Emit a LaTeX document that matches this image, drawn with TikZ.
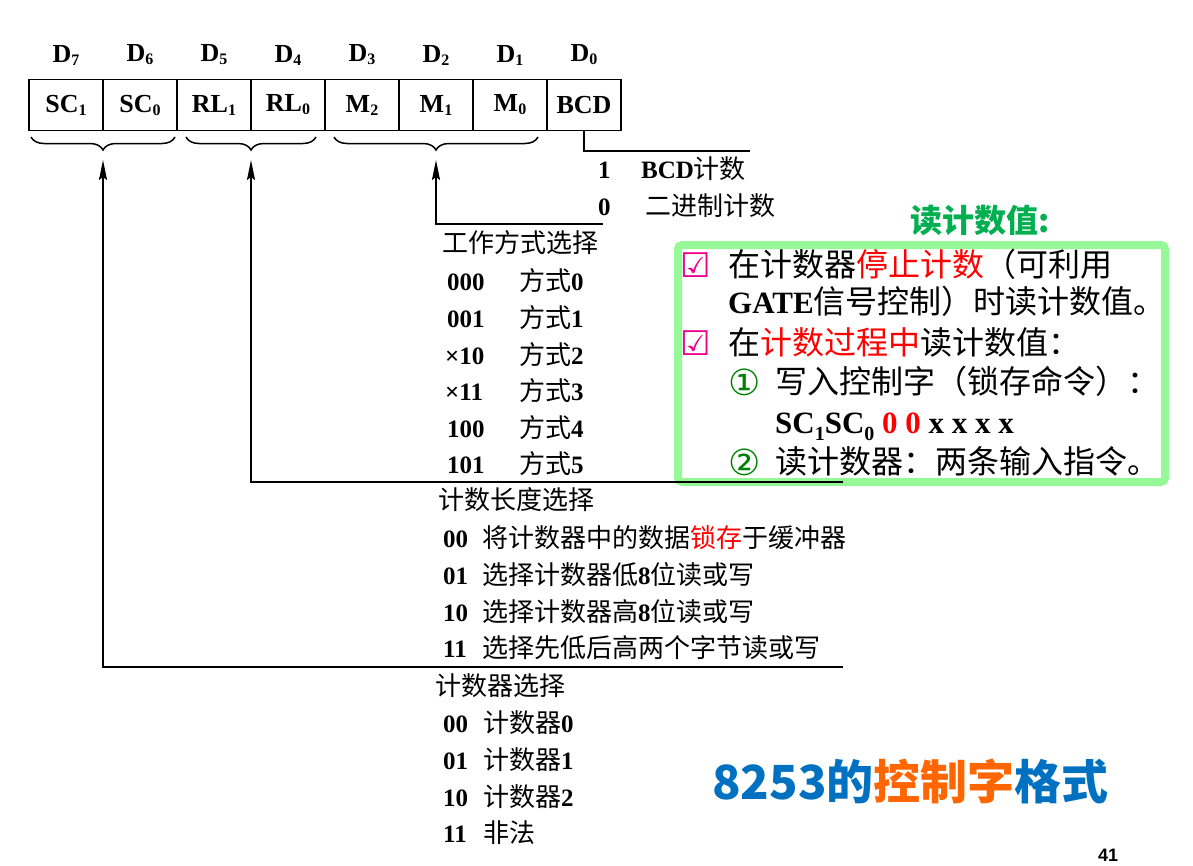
\documentclass[tikz,border=0pt]{standalone}
\usepackage{fontspec}
\setmainfont{Liberation Serif}
\newfontfamily\cjk{Noto Sans CJK SC}
\newfontfamily\djv{DejaVu Sans}
\newfontfamily\lsans{Liberation Sans}
\usetikzlibrary{arrows.meta,decorations.pathreplacing}
\definecolor{boxgreen}{RGB}{150,248,150}
\definecolor{ttlgreen}{RGB}{0,176,80}
\definecolor{dkgreen}{RGB}{0,128,0}
\definecolor{ttlblue}{RGB}{0,112,192}
\definecolor{ttlorange}{RGB}{255,102,0}
\newcommand\fsz[1]{\fontsize{#1}{#1}\selectfont}
\newcommand\zh[1]{{\cjk\fsz{26}#1}}
\newcommand\zg[1]{{\cjk\fsz{32}#1}}
\newcommand\lowsub[1]{\raisebox{-3pt}{\fsz{16}#1}}
\newcommand\lowsubb[1]{\raisebox{-7pt}{\fsz{20}#1}}
\begin{document}
\begin{tikzpicture}[x=1pt,y=-1pt,
  cell/.style={draw, line width=1.5pt, minimum width=74pt, minimum height=51pt, inner sep=0pt, font=\fsz{26}\bfseries},
  dlab/.style={inner sep=0pt, font=\fsz{26}\bfseries},
  txt/.style={anchor=base west, inner sep=0pt, font=\fsz{25}},
  gtxt/.style={anchor=base west, inner sep=0pt, font=\fsz{31}},
  chk/.style={inner sep=0pt, font=\djv\fsz{34}, text=magenta},
  circ/.style={inner sep=0pt, font=\djv\fsz{36}, text=dkgreen},
  ln/.style={line width=1.8pt},
  arr/.style={ln, -{Stealth[length=20pt,width=8pt,inset=3pt]}},
  brc/.style={decorate, decoration={brace, amplitude=13pt, mirror}, line width=1.5pt}
]
\useasboundingbox (0,0) rectangle (1193,865);

% register cells
\node[cell] (c7) at (66,105) {SC\lowsub{1}};
\node[cell] (c6) at (140,105) {SC\lowsub{0}};
\node[cell] (c5) at (214,105) {RL\lowsub{1}};
\node[cell] (c4) at (288,105) {RL\lowsub{0}};
\node[cell] (c3) at (362,105) {M\lowsub{2}};
\node[cell] (c2) at (436,105) {M\lowsub{1}};
\node[cell] (c1) at (510,105) {M\lowsub{0}};
\node[cell] (c0) at (584,105) {BCD};

\node[dlab] (d7) at (66,55) {D\lowsub{7}};
\node[dlab] (d6) at (140,55) {D\lowsub{6}};
\node[dlab] (d5) at (214,55) {D\lowsub{5}};
\node[dlab] (d4) at (288,55) {D\lowsub{4}};
\node[dlab] (d3) at (362,55) {D\lowsub{3}};
\node[dlab] (d2) at (436,55) {D\lowsub{2}};
\node[dlab] (d1) at (510,55) {D\lowsub{1}};
\node[dlab] (d0) at (584,55) {D\lowsub{0}};

% braces
\coordinate (b1s) at (31,137);  \coordinate (b1e) at (175,137);
\coordinate (b2s) at (186,137); \coordinate (b2e) at (316,137);
\coordinate (b3s) at (334,137); \coordinate (b3e) at (538,137);
\draw[brc] (b1s) -- (b1e);
\draw[brc] (b2s) -- (b2e);
\draw[brc] (b3s) -- (b3e);

% green box (drawn before the lines)
\node[draw=boxgreen, fill=white, line width=8pt, rounded corners=4pt, minimum width=487pt, minimum height=237pt, inner sep=0pt] (gbox) at (921.5,363.5) {};
\node[anchor=base west, inner sep=0pt, font=\cjk\bfseries\fsz{32}, text=ttlgreen] (gttl) at (910,232) {读计数值:};

% connectors
\coordinate (t1) at (103,160); \coordinate (k1) at (103,667); \coordinate (e1) at (843,667);
\coordinate (t2) at (251,160); \coordinate (k2) at (251,482); \coordinate (e2) at (843,482);
\coordinate (t3) at (436,160); \coordinate (k3) at (436,224); \coordinate (e3) at (603,224);
\coordinate (bcde) at (750,151);
\draw[arr] (e1) -- (k1) -- (t1);
\draw[arr] (e2) -- (k2) -- (t2);
\draw[arr] (e3) -- (k3) -- (t3);
\draw[ln] (c0.south) |- (bcde);

% BCD choice
\node[txt] (b1n) at (598,178) {\bfseries 1};
\node[txt] (b1t) at (641,178) {{\bfseries BCD}\zh{计数}};
\node[txt] (b0n) at (598,215) {\bfseries 0};
\node[txt] (b0t) at (645,215) {\zh{二进制计数}};

% mode selection
\node[txt] (mh) at (442,252) {\zh{工作方式选择}};
\node[txt] (m0c) at (447,290) {\bfseries 000};
\node[txt] (m0t) at (519,290) {\zh{方式}\textbf{0}};
\node[txt] (m1c) at (447,327) {\bfseries 001};
\node[txt] (m1t) at (519,327) {\zh{方式}\textbf{1}};
\node[txt] (m2c) at (445,364) {\bfseries ×10};
\node[txt] (m2t) at (519,364) {\zh{方式}\textbf{2}};
\node[txt] (m3c) at (445,400) {\bfseries ×11};
\node[txt] (m3t) at (519,400) {\zh{方式}\textbf{3}};
\node[txt] (m4c) at (447,437) {\bfseries 100};
\node[txt] (m4t) at (519,437) {\zh{方式}\textbf{4}};
\node[txt] (m5c) at (447,473) {\bfseries 101};
\node[txt] (m5t) at (519,473) {\zh{方式}\textbf{5}};

% read/load selection
\node[txt] (rh) at (438,509) {\zh{计数长度选择}};
\node[txt] (r0c) at (443,547) {\bfseries 00};
\node[txt] (r0t) at (482,547) {\zh{将计数器中的数据\textcolor{red}{锁存}于缓冲器}};
\node[txt] (r1c) at (443,584) {\bfseries 01};
\node[txt] (r1t) at (482,584) {\zh{选择计数器低}\textbf{8}\zh{位读或写}};
\node[txt] (r2c) at (443,621) {\bfseries 10};
\node[txt] (r2t) at (482,621) {\zh{选择计数器高}\textbf{8}\zh{位读或写}};
\node[txt] (r3c) at (443,657) {\bfseries 11};
\node[txt] (r3t) at (482,657) {\zh{选择先低后高两个字节读或写}};

% counter selection
\node[txt] (sh) at (435,695) {\zh{计数器选择}};
\node[txt] (s0c) at (443,732) {\bfseries 00};
\node[txt] (s0t) at (483,732) {\zh{计数器}\textbf{0}};
\node[txt] (s1c) at (443,769) {\bfseries 01};
\node[txt] (s1t) at (483,769) {\zh{计数器}\textbf{1}};
\node[txt] (s2c) at (443,806) {\bfseries 10};
\node[txt] (s2t) at (483,806) {\zh{计数器}\textbf{2}};
\node[txt] (s3c) at (443,842) {\bfseries 11};
\node[txt] (s3t) at (483,842) {\zh{非法}};

% green box contents
\node[chk] (ck1) at (696,265) {☑};
\node[gtxt] (g1) at (728,276) {\zg{在计数器\textcolor{red}{停止计数}（可利用}};
\node[gtxt] (g2) at (728,313) {\textbf{GATE}\zg{信号控制）时读计数值。}};
\node[chk] (ck2) at (696,343) {☑};
\node[gtxt] (g3) at (728,354) {\zg{在\textcolor{red}{计数过程中}读计数值：}};
\node[circ] (n1) at (745,382) {①};
\node[gtxt] (g4) at (775,393) {\zg{写入控制字（锁存命令）：}};
\node[gtxt] (g5) at (775,433) {\bfseries SC\lowsubb{1}SC\lowsubb{0} \textcolor{red}{0 0} x x x x};
\node[circ] (n2) at (745,462) {②};
\node[gtxt] (g6) at (775,473) {\zg{读计数器：两条输入指令。}};

% title and page number
\node[anchor=base west, inner sep=0pt, font=\cjk\bfseries\fsz{47}] (title) at (712,799) {\textcolor{ttlblue}{8253的}\textcolor{ttlorange}{控制字}\textcolor{ttlblue}{格式}};
\node[inner sep=0pt, font=\lsans\bfseries\fsz{18}] (pg) at (1108,855) {41};
\end{tikzpicture}
\end{document}
